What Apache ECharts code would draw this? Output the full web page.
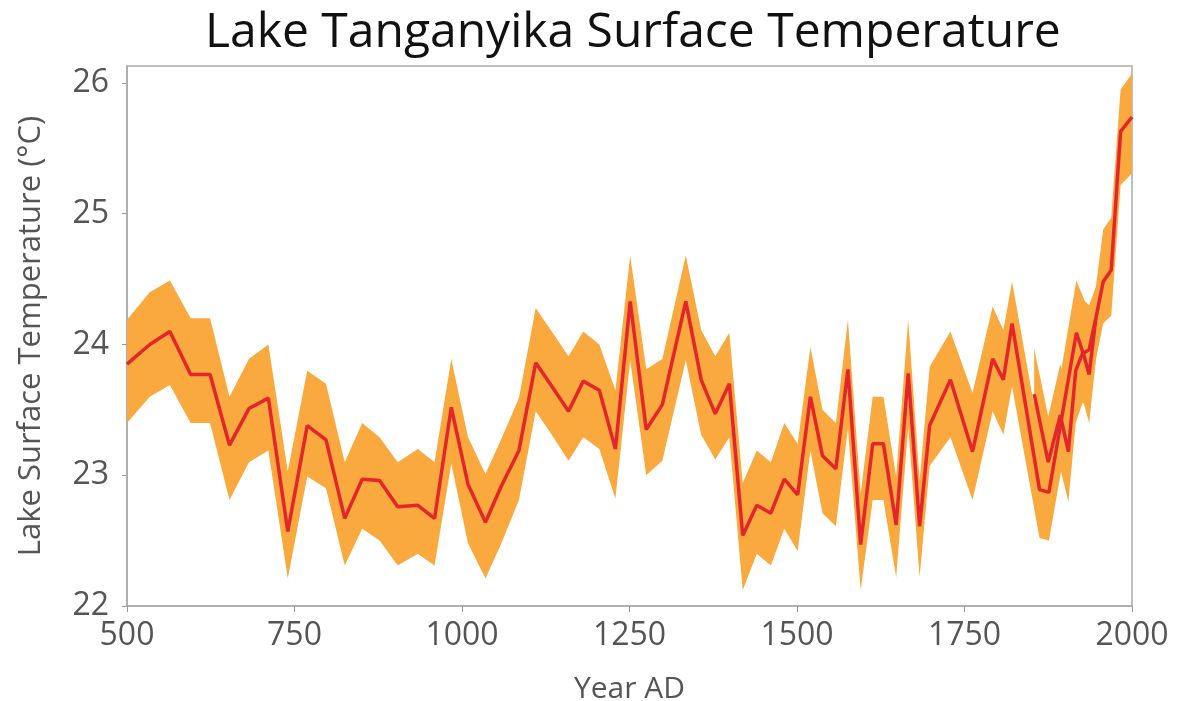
<!DOCTYPE html>
<html>
<head>
<meta charset="utf-8">
<script src="https://cdn.jsdelivr.net/npm/echarts@6/dist/echarts.min.js"></script>
<style>
  html, body { margin: 0; padding: 0; background: #fff; }
  #chart { width: 1180px; height: 701px; }
</style>
</head>
<body>
<div id="chart"></div>
<script>
// main record
const years = [500, 534, 564, 595, 624, 653, 682, 711, 740, 769, 797, 825, 851, 877, 904, 934, 959, 984, 1009, 1035, 1058, 1085, 1110, 1134, 1159, 1181, 1205, 1229, 1251, 1275, 1299, 1334, 1357, 1378, 1399, 1419, 1440, 1461, 1481, 1501, 1520, 1538, 1558, 1576, 1595, 1613, 1629, 1648, 1666, 1683, 1698, 1729, 1762, 1792, 1808, 1821, 1862, 1876, 1917, 1928, 1936, 1946, 1957, 1969, 1983, 2000]
const temps = [23.85, 24.00, 24.10, 23.77, 23.77, 23.23, 23.51, 23.59, 22.57, 23.38, 23.27, 22.67, 22.97, 22.96, 22.76, 22.77, 22.67, 23.52, 22.93, 22.64, 22.91, 23.19, 23.86, 23.68, 23.49, 23.72, 23.65, 23.20, 24.33, 23.35, 23.54, 24.33, 23.73, 23.47, 23.70, 22.54, 22.77, 22.71, 22.97, 22.85, 23.60, 23.15, 23.05, 23.81, 22.47, 23.24, 23.24, 22.62, 23.78, 22.61, 23.38, 23.73, 23.18, 23.89, 23.73, 24.16, 22.89, 22.87, 24.09, 23.92, 23.77, 24.20, 24.48, 24.57, 25.63, 25.74]
const upper = [24.19, 24.40, 24.49, 24.20, 24.20, 23.60, 23.89, 24.00, 23.03, 23.80, 23.70, 23.10, 23.40, 23.29, 23.10, 23.20, 23.10, 23.89, 23.29, 23.01, 23.27, 23.59, 24.28, 24.10, 23.91, 24.10, 24.00, 23.65, 24.68, 23.81, 23.89, 24.68, 24.11, 23.91, 24.09, 22.94, 23.19, 23.10, 23.40, 23.24, 23.98, 23.50, 23.40, 24.19, 22.86, 23.60, 23.60, 22.99, 24.19, 22.96, 23.83, 24.10, 23.63, 24.29, 24.11, 24.48, 23.30, 23.25, 24.49, 24.35, 24.20, 24.44, 24.88, 24.97, 25.95, 26.07]
const lower = [23.40, 23.60, 23.69, 23.40, 23.40, 22.81, 23.10, 23.19, 22.21, 22.99, 22.90, 22.31, 22.59, 22.50, 22.31, 22.40, 22.31, 23.09, 22.48, 22.21, 22.47, 22.81, 23.49, 23.31, 23.11, 23.29, 23.20, 22.82, 23.88, 23.00, 23.11, 23.88, 23.31, 23.12, 23.29, 22.12, 22.40, 22.31, 22.59, 22.42, 23.19, 22.71, 22.61, 23.36, 22.12, 22.81, 22.81, 22.22, 23.37, 22.22, 23.07, 23.29, 22.81, 23.49, 23.31, 23.68, 22.52, 22.50, 23.70, 23.55, 23.40, 23.88, 24.16, 24.22, 25.22, 25.31]

// second, shorter record
const yearsB = [1854, 1875, 1893, 1905, 1916, 1926, 1936, 1946]
const tempsB = [23.62, 23.10, 23.46, 23.18, 23.80, 23.93, 23.96, 24.20]
const upperB = [23.97, 23.45, 23.85, 23.55, 24.20, 24.35, 24.30, 24.44]
const lowerB = [23.25, 22.70, 23.05, 22.80, 23.40, 23.55, 23.55, 23.88]

const xTicks = [500, 750, 1000, 1250, 1500, 1750, 2000]
const yTicks = [22, 23, 24, 25, 26]

const BAND = '#F9A93D'
const LINE = '#E3262B'
const TXT = '#555'
const FONT = 'Open Sans'

function pairs(xs, ys) {
  return xs.map((x, i) => [x, ys[i]])
}

// uncertainty envelope as one polygon, placed through the axes
function bandSeries(name, xs, lo, hi) {
  return {
    name,
    type: 'custom',
    silent: true,
    z: 1,
    data: [[xs[0], lo[0]]],
    renderItem(params, api) {
      const top = xs.map((x, i) => api.coord([x, hi[i]]))
      const bot = xs.map((x, i) => api.coord([x, lo[i]])).reverse()
      return {
        type: 'polygon',
        shape: { points: top.concat(bot) },
        style: { fill: BAND },
      }
    },
  }
}

function lineSeries(name, xs, ys) {
  return {
    name,
    type: 'line',
    data: pairs(xs, ys),
    symbol: 'none',
    lineStyle: { color: LINE, width: 3.5 },
    z: 5,
  }
}

const chart = echarts.init(document.getElementById('chart'))
chart.setOption({
  animation: false,
  title: {
    text: 'Lake Tanganyika Surface Temperature',
    left: 200,
    top: 4,
    textStyle: { fontFamily: FONT, fontSize: 48, fontWeight: 'normal', color: '#111' },
  },
  grid: {
    left: 127, right: 48, top: 66, bottom: 95,
    outerBoundsMode: 'none',
    containLabel: false,
    show: true, borderColor: '#aaa', borderWidth: 1.5,
  },
  xAxis: {
    type: 'value',
    min: xTicks[0],
    max: xTicks[xTicks.length - 1],
    interval: 250,
    name: 'Year AD',
    nameLocation: 'middle',
    nameGap: 68,
    nameTextStyle: { fontFamily: FONT, fontSize: 30, color: TXT },
    axisLine: { lineStyle: { color: '#aaa', width: 1.5 } },
    axisTick: { show: true, length: 6, lineStyle: { color: '#999' } },
    axisLabel: { fontFamily: FONT, fontSize: 32, color: TXT, margin: 14, formatter: v => String(v) },
    splitLine: { show: false },
  },
  yAxis: {
    type: 'value',
    min: yTicks[0],
    max: 26.13,
    interval: 1,
    name: 'Lake Surface Temperature (°C)',
    nameLocation: 'middle',
    nameGap: 80,
    nameTextStyle: { fontFamily: FONT, fontSize: 31, color: TXT },
    axisLine: { show: true, lineStyle: { color: '#aaa', width: 1.5 } },
    axisTick: { show: true, length: 5, lineStyle: { color: '#999' } },
    axisLabel: { fontFamily: FONT, fontSize: 32, color: TXT, margin: 18, showMaxLabel: false },
    splitLine: { show: false },
  },
  series: [
    bandSeries('bandA', years, lower, upper),
    bandSeries('bandB', yearsB, lowerB, upperB),
    lineSeries('main', years, temps),
    lineSeries('second', yearsB, tempsB),
  ],
})
</script>
</body>
</html>
